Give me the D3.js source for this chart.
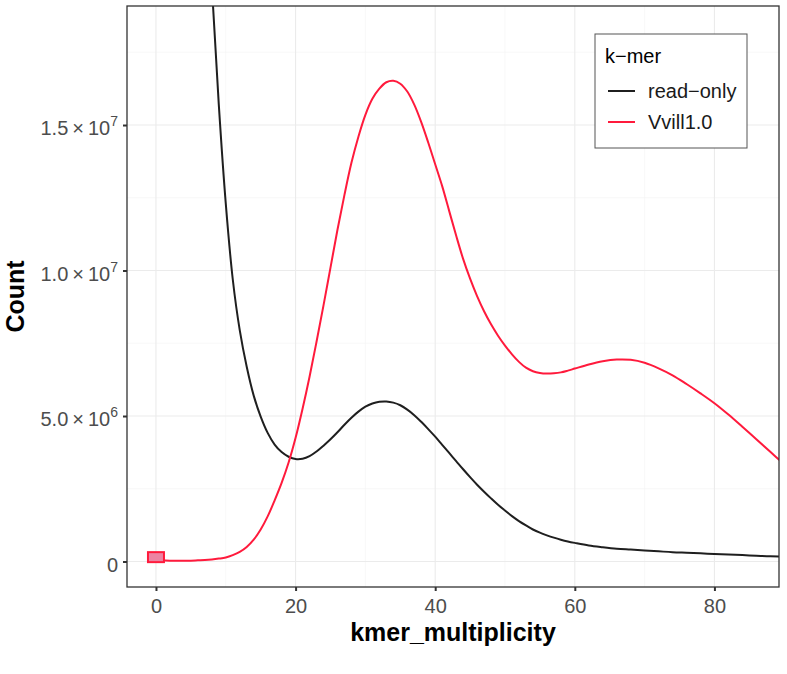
<!DOCTYPE html>
<html lang="en">
<head>
    <meta charset="UTF-8">
</head>
<style>
    body{
        margin:0;
        width:787px;
        height:674px;
        background:#fff;
        font-family:"Liberation Sans", Arial, sans-serif;
    }
    .grid-major{ stroke:#ebebeb; stroke-width:1.1; }
    .grid-minor{ stroke:#f3f3f3; stroke-width:0.6; }
    .tick-label{ fill:#4d4d4d; font-size:20px; }
    .axis-title{ fill:#000; font-size:25px; font-weight:bold; }
</style>
<script src="https://d3js.org/d3.v7.min.js"></script>
<script>
    // k-mer multiplicity (x) shared by both series
    var kmer = [0,1,2,3,4,5,6,7,8,9,10,11,12,13,14,15,16,17,18,19,20,
        21,22,23,24,25,26,27,28,29,30,31,32,33,34,35,36,37,38,39,40,
        41,42,43,44,45,46,47,48,49,50,51,52,53,54,55,56,57,58,59,60,
        62,64,66,68,70,72,74,76,78,80,82,84,86,88,90];

    // counts in millions
    var readOnly = [180,140,100,75,55,42,32,25,19.8,15.7,12.3,9.7,7.95,6.69,5.7,4.98,4.42,4.02,3.76,3.6,3.52,
        3.53,3.62,3.78,3.98,4.2,4.44,4.7,4.94,5.15,5.32,5.43,5.49,5.5,5.46,5.37,5.22,5.03,4.8,4.55,4.29,
        4.01,3.73,3.45,3.17,2.9,2.64,2.4,2.17,1.95,1.75,1.56,1.39,1.24,1.1,0.99,0.9,0.82,0.75,0.69,0.64,
        0.55,0.49,0.44,0.41,0.38,0.35,0.32,0.3,0.28,0.26,0.24,0.22,0.2,0.18,0.17];

    var vvill = [0.05,0.04,0.03,0.03,0.03,0.03,0.04,0.05,0.07,0.1,0.14,0.22,0.33,0.5,0.75,1.1,1.55,2.1,2.7,3.4,4.25,
        5.25,6.35,7.55,8.8,10.1,11.4,12.6,13.7,14.6,15.35,15.9,16.25,16.47,16.52,16.42,16.15,15.7,15.1,14.4,13.65,
        12.9,12.05,11.2,10.4,9.72,9.12,8.6,8.15,7.76,7.42,7.12,6.86,6.66,6.54,6.48,6.46,6.47,6.5,6.56,6.63,
        6.77,6.88,6.94,6.93,6.83,6.64,6.4,6.1,5.78,5.44,5.05,4.63,4.2,3.77,3.34];

    var seriesNames = ["read\u2212only", "Vvill1.0"];
    var seriesColors = ["#1f1f1f", "#ff1a3c"];

    // highlighted point at multiplicity 0
    var markX = [0];
    var markY = [0.15];

    var xTicks = [0, 20, 40, 60, 80];
    var xMinor = [10, 30, 50, 70];
    var yTicks = [0, 5, 10, 15];
    var yTickLabels = ["0", "5.0|6", "1.0|7", "1.5|7"];
    var yMinor = [2.5, 7.5, 12.5, 17.5];

    d3.select(window).on('load', init);

    function init() {
        var margin = {top: 6, right: 8, bottom: 87, left: 127},
            width = 787 - margin.left - margin.right,
            height = 674 - margin.top - margin.bottom;

        var x = d3.scaleLinear().domain([-4.15, 89.25]).range([0, width]);
        var y = d3.scaleLinear().domain([-0.876, 19.09]).range([height, 0]);

        var svg = d3.select("#chart")
            .attr("width", 787)
            .attr("height", 674);

        var g = svg.append("g")
            .attr("transform", "translate(" + margin.left + "," + margin.top + ")");

        svg.append("defs").append("clipPath").attr("id", "clip")
            .append("rect").attr("width", width).attr("height", height);

        // grid
        g.selectAll(".gx-minor").data(xMinor).enter().append("line")
            .attr("class", "grid-minor")
            .attr("x1", function(d) { return x(d); }).attr("x2", function(d) { return x(d); })
            .attr("y1", 0).attr("y2", height);
        g.selectAll(".gy-minor").data(yMinor).enter().append("line")
            .attr("class", "grid-minor")
            .attr("y1", function(d) { return y(d); }).attr("y2", function(d) { return y(d); })
            .attr("x1", 0).attr("x2", width);
        g.selectAll(".gx").data(xTicks).enter().append("line")
            .attr("class", "grid-major")
            .attr("x1", function(d) { return x(d); }).attr("x2", function(d) { return x(d); })
            .attr("y1", 0).attr("y2", height);
        g.selectAll(".gy").data(yTicks).enter().append("line")
            .attr("class", "grid-major")
            .attr("y1", function(d) { return y(d); }).attr("y2", function(d) { return y(d); })
            .attr("x1", 0).attr("x2", width);

        // lines
        var plot = g.append("g").attr("clip-path", "url(#clip)");
        var series = [readOnly, vvill];
        var line = d3.line()
            .x(function(d, i) { return x(kmer[i]); })
            .y(function(d) { return y(d); })
            .curve(d3.curveCatmullRom.alpha(0.5));

        series.forEach(function(s, k) {
            plot.append("path")
                .datum(s)
                .attr("fill", "none")
                .attr("stroke", seriesColors[k])
                .attr("stroke-width", 2)
                .attr("d", line);
        });

        plot.selectAll(".mark").data(markX).enter().append("rect")
            .attr("x", function(d) { return x(d) - 8; })
            .attr("y", function(d, i) { return y(markY[i]) - 5; })
            .attr("width", 16)
            .attr("height", 10)
            .attr("fill", "#ec84a3")
            .attr("stroke", "#ff1a3c")
            .attr("stroke-width", 2);

        // panel border
        g.append("rect")
            .attr("width", width).attr("height", height)
            .attr("fill", "none").attr("stroke", "#333").attr("stroke-width", 1.3);

        // axes
        var xAxis = g.append("g")
            .attr("transform", "translate(0," + height + ")")
            .call(d3.axisBottom(x).tickValues(xTicks).tickSize(4).tickPadding(8));
        xAxis.select(".domain").remove();
        xAxis.selectAll("line").attr("stroke", "#333").attr("stroke-width", 2);
        xAxis.selectAll("text").attr("class", "tick-label").attr("fill", "#4d4d4d")
            .attr("font-size", "20px").attr("font-family", "Liberation Sans, Arial, sans-serif");

        var yAxis = g.append("g")
            .call(d3.axisLeft(y).tickValues(yTicks).tickSize(4).tickFormat(""));
        yAxis.select(".domain").remove();
        yAxis.selectAll("line").attr("stroke", "#333").attr("stroke-width", 2);

        yTicks.forEach(function(t, i) {
            var parts = yTickLabels[i].split("|");
            var txt = g.append("text")
                .attr("class", "tick-label")
                .attr("x", -9)
                .attr("y", y(t) + 10)
                .attr("text-anchor", "end");
            if (parts.length === 1) {
                txt.text(parts[0]);
            } else {
                txt.append("tspan").text(parts[0] + "\u2009\u00d7\u200910");
                txt.append("tspan").attr("dy", -9).attr("font-size", "14px").text(parts[1]);
            }
        });

        // axis titles
        svg.append("text")
            .attr("class", "axis-title")
            .attr("text-anchor", "middle")
            .attr("x", margin.left + width / 2)
            .attr("y", 641)
            .text("kmer_multiplicity");

        svg.append("text")
            .attr("class", "axis-title")
            .attr("text-anchor", "middle")
            .attr("transform", "translate(24," + (margin.top + height / 2) + ") rotate(-90)")
            .text("Count");

        // legend
        var lg = svg.append("g").attr("transform", "translate(595,34)");
        lg.append("rect")
            .attr("width", 152).attr("height", 114)
            .attr("fill", "#fff").attr("stroke", "#555").attr("stroke-width", 1);
        lg.append("text")
            .attr("x", 10).attr("y", 29)
            .attr("font-size", "20px").attr("fill", "#000")
            .text("k\u2212mer");
        seriesNames.forEach(function(n, k) {
            var yy = 57 + k * 31;
            lg.append("line")
                .attr("x1", 13).attr("x2", 40)
                .attr("y1", yy).attr("y2", yy)
                .attr("stroke", seriesColors[k]).attr("stroke-width", 2);
            lg.append("text")
                .attr("x", 53).attr("y", yy + 7)
                .attr("font-size", "20px").attr("fill", "#1a1a1a")
                .text(n);
        });
    }
</script>
<body>
<svg id="chart"></svg>
</body>
</html>
